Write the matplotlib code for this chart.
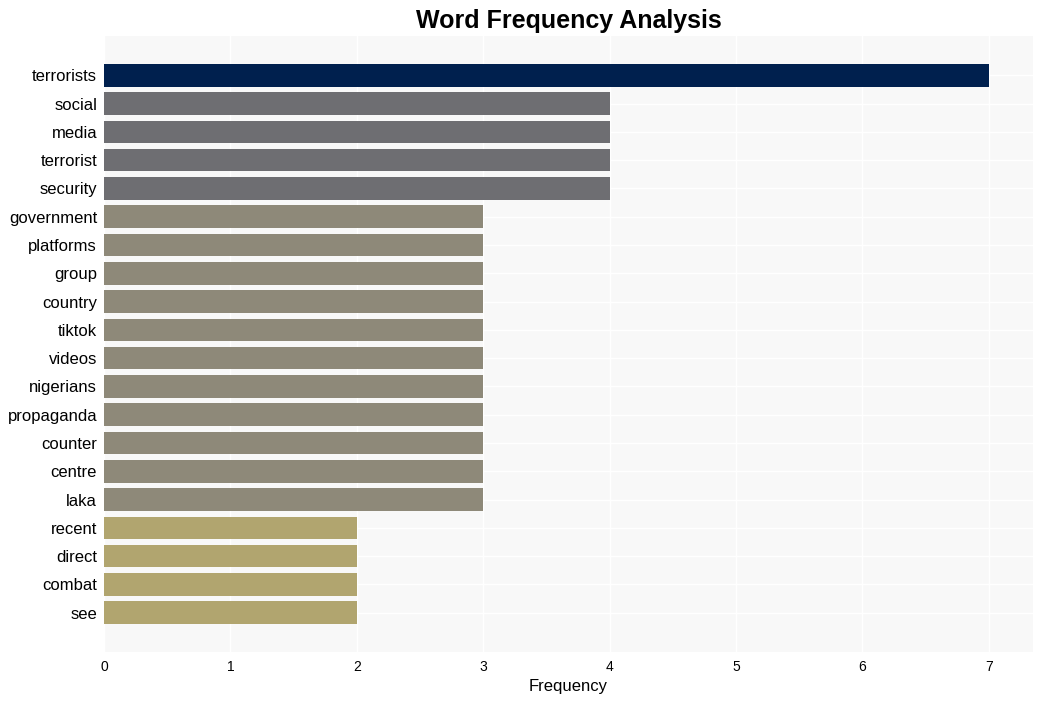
import matplotlib
matplotlib.use("Agg")
import matplotlib.pyplot as plt

plt.rcParams["font.family"] = ["Liberation Sans", "DejaVu Sans"]

words = ["terrorists", "social", "media", "terrorist", "security", "government",
         "platforms", "group", "country", "tiktok", "videos", "nigerians",
         "propaganda", "counter", "centre", "laka", "recent", "direct", "combat", "see"]
counts = [7, 4, 4, 4, 4, 3, 3, 3, 3, 3, 3, 3, 3, 3, 3, 3, 2, 2, 2, 2]

palette = {7: "#00204e", 4: "#6e6e72", 3: "#8e8979", 2: "#b1a56f"}
colors = [palette[c] for c in counts]

fig = plt.figure(figsize=(10.43, 7.01), dpi=100)
ax = fig.add_axes([104/1043, 1 - 652/701, (1033-104)/1043, (652-36)/701])
ax.set_facecolor("#f8f8f8")
ax.barh(words, counts, height=0.8, color=colors, zorder=2)
ax.invert_yaxis()
ax.grid(True, color="white", linewidth=1, zorder=1)
for s in ax.spines.values():
    s.set_visible(False)
ax.tick_params(axis="both", length=0)
ax.tick_params(axis="y", labelsize=12, pad=5)
ax.tick_params(axis="x", labelsize=10, pad=6)
ax.set_xlabel("Frequency", fontsize=12, labelpad=3)
ax.set_title("Word Frequency Analysis", fontsize=18, fontweight="bold", pad=6)

fig.savefig("out.png", dpi=100)
